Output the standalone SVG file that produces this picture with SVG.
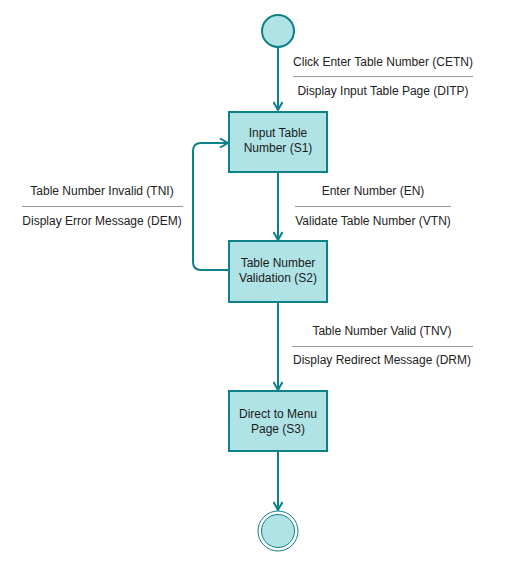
<svg xmlns="http://www.w3.org/2000/svg" width="505" height="573" viewBox="0 0 505 573">
<style>
.node{fill:#b0e3e6;stroke:#0e8088;stroke-width:2}
.ntext{font-family:"Liberation Sans",Arial,sans-serif;font-size:12px;fill:#1a1a1a;text-anchor:middle}
.conn{fill:none;stroke:#0e8088;stroke-width:2}
.ltext{font-family:"Liberation Sans",Arial,sans-serif;font-size:12px;fill:#222222;text-anchor:middle}
.sep{stroke:#999999;stroke-width:1}
</style>
<defs>
<marker id="arr" viewBox="0 0 10 10" refX="9" refY="5" markerWidth="10" markerHeight="10" markerUnits="userSpaceOnUse" orient="auto">
<path d="M1,0.5 L9,5 L1,9.5" fill="none" stroke="#0e8088" stroke-width="2"/>
</marker>
</defs>
<rect width="505" height="573" fill="#ffffff"/>
<g id="connectors">
<path class="conn" d="M278,47 L278,110" marker-end="url(#arr)"/>
<path class="conn" d="M278,172 L278,240" marker-end="url(#arr)"/>
<path class="conn" d="M228,270 L201,270 Q193,270 193,262 L193,151 Q193,143 201,143 L228,143" marker-end="url(#arr)"/>
<path class="conn" d="M278,302 L278,390" marker-end="url(#arr)"/>
<path class="conn" d="M278,451 L278,510" marker-end="url(#arr)"/>
</g>
<g id="labels">
<g id="label-cetn">
<text class="ltext" x="383" y="66">Click Enter Table Number (CETN)</text>
<line class="sep" x1="293" y1="76.5" x2="473" y2="76.5"/>
<text class="ltext" x="383" y="95">Display Input Table Page (DITP)</text>
</g>
<g id="label-en">
<text class="ltext" x="373" y="195">Enter Number (EN)</text>
<line class="sep" x1="295" y1="206.5" x2="451" y2="206.5"/>
<text class="ltext" x="373" y="225">Validate Table Number (VTN)</text>
</g>
<g id="label-tni">
<text class="ltext" x="102" y="195">Table Number Invalid (TNI)</text>
<line class="sep" x1="22" y1="206.5" x2="183" y2="206.5"/>
<text class="ltext" x="102" y="225">Display Error Message (DEM)</text>
</g>
<g id="label-tnv">
<text class="ltext" x="382" y="335">Table Number Valid (TNV)</text>
<line class="sep" x1="292" y1="346.5" x2="473" y2="346.5"/>
<text class="ltext" x="382" y="364">Display Redirect Message (DRM)</text>
</g>
</g>
<g id="start">
<circle class="node" cx="278" cy="31" r="16" stroke-width="1"/>
</g>
<g id="s1">
<rect class="node" x="229" y="112" width="98" height="60"/>
<text class="ntext" x="278" y="137">Input Table</text>
<text class="ntext" x="278" y="152">Number (S1)</text>
</g>
<g id="s2">
<rect class="node" x="229" y="241" width="98" height="61"/>
<text class="ntext" x="278" y="267">Table Number</text>
<text class="ntext" x="278" y="282">Validation (S2)</text>
</g>
<g id="s3">
<rect class="node" x="229" y="391" width="98" height="60"/>
<text class="ntext" x="278" y="418">Direct to Menu</text>
<text class="ntext" x="278" y="433">Page (S3)</text>
</g>
<g id="end">
<circle cx="278" cy="531" r="20" fill="#ffffff" stroke="#0e8088" stroke-width="1"/>
<circle cx="278" cy="531" r="16.5" fill="#b0e3e6" stroke="#0e8088" stroke-width="1"/>
</g>
</svg>
